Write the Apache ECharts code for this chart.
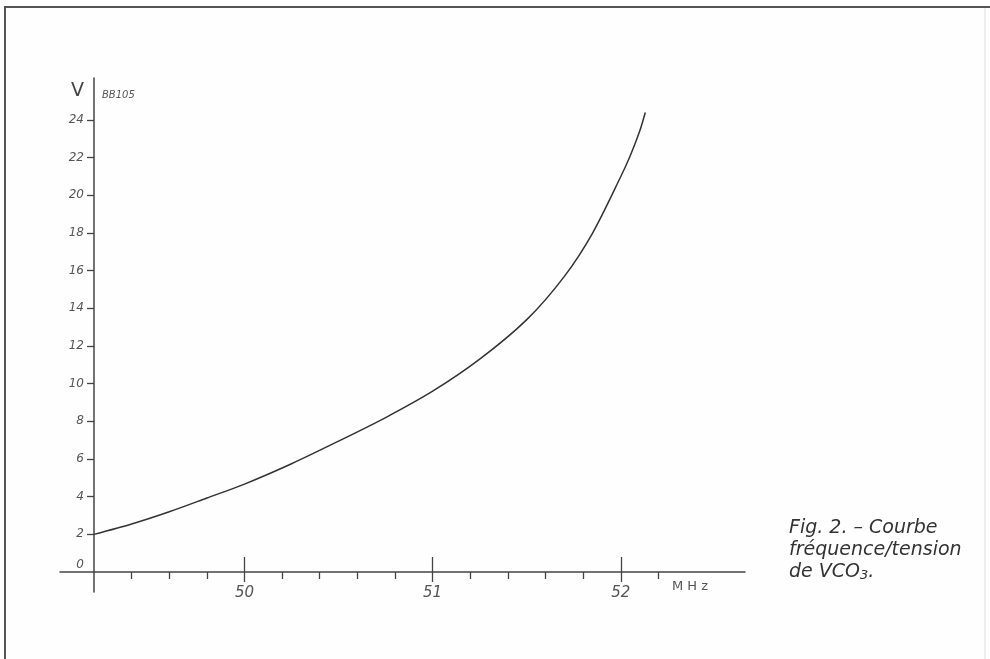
<!DOCTYPE html>
<html>
<head>
<meta charset="utf-8">
<script src="https://cdn.jsdelivr.net/npm/echarts@6/dist/echarts.min.js"></script>
<style>
html,body{margin:0;padding:0;background:#fefefe;}
#chart{width:990px;height:659px;}
</style>
</head>
<body>
<div id="chart"></div>
<script>
// ---- data ----
const freqMHz = [49.2, 49.4, 49.6, 49.8, 50.0, 50.25, 50.5, 50.75, 51.0, 51.25, 51.5, 51.7, 51.85, 52.0, 52.05, 52.1, 52.13];
const voltV   = [2.0, 2.55, 3.2, 3.93, 4.67, 5.75, 6.95, 8.2, 9.6, 11.3, 13.4, 15.7, 18.0, 21.0, 22.1, 23.4, 24.4];
const yTicks = [0, 2, 4, 6, 8, 10, 12, 14, 16, 18, 20, 22, 24];
const xMajorTicks = [50, 51, 52];
const xMinorTicks = [49.4, 49.6, 49.8, 50.2, 50.4, 50.6, 50.8, 51.2, 51.4, 51.6, 51.8, 52.2];
const xUnit = 'M H z';
const yUnit = 'V';
const diodeName = 'BB105';
const captionLines = ['Fig. 2. – Courbe', 'fréquence/tension'];

const ink = '#444';
const chart = echarts.init(document.getElementById('chart'), null, {renderer: 'canvas'});
const seriesData = freqMHz.map((f, i) => [f, voltV[i]]);

const option = {
  backgroundColor: '#fefefe',
  animation: false,
  grid: [
    {left: 60, top: 78, width: 685, height: 494},
    {left: 94, top: 78, width: 651, height: 514}
  ],
  xAxis: [
    { // main line + minor ticks
      gridIndex: 0, type: 'value', min: 49.02, max: 52.66, position: 'bottom',
      axisLine: {show: true, onZero: false, lineStyle: {color: ink, width: 1.5}},
      axisTick: {show: true, customValues: xMinorTicks, length: 7, inside: false, lineStyle: {color: ink, width: 1.3}},
      axisLabel: {show: false}, splitLine: {show: false}
    },
    { // major ticks upward + labels
      gridIndex: 0, type: 'value', min: 49.02, max: 52.66, position: 'bottom',
      axisLine: {show: false, onZero: false},
      axisTick: {show: true, customValues: xMajorTicks, length: 15, inside: true, lineStyle: {color: ink, width: 1.3}},
      axisLabel: {show: true, customValues: xMajorTicks, margin: 14, color: '#555', fontSize: 15, fontStyle: 'italic', fontFamily: 'DejaVu Sans'},
      splitLine: {show: false}
    },
    { // major ticks downward
      gridIndex: 0, type: 'value', min: 49.02, max: 52.66, position: 'bottom',
      axisLine: {show: false, onZero: false},
      axisTick: {show: true, customValues: xMajorTicks, length: 10, inside: false, lineStyle: {color: ink, width: 1.3}},
      axisLabel: {show: false}, splitLine: {show: false}
    },
    {
      gridIndex: 1, type: 'value', min: 49.2, max: 52.66, show: false
    }
  ],
  yAxis: [
    {gridIndex: 0, type: 'value', min: 0, max: 26.23, show: false},
    {
      gridIndex: 1, type: 'value', min: -1.06, max: 26.23, position: 'left',
      axisLine: {show: true, onZero: false, lineStyle: {color: ink, width: 1.5}},
      axisTick: {show: true, customValues: yTicks.filter(v => v !== 0), length: 7, lineStyle: {color: ink, width: 1.3}},
      axisLabel: {
        show: true, customValues: yTicks, margin: 10, color: '#555', fontSize: 12,
        fontStyle: 'italic', fontFamily: 'DejaVu Sans',
        formatter: v => v === 0 ? '{z|0}' : String(v),
        rich: {z: {color: '#555', fontSize: 12, fontStyle: 'italic', fontFamily: 'DejaVu Sans', padding: [0, 0, 14, 0]}}
      },
      splitLine: {show: false}
    }
  ],
  series: [{
    type: 'line',
    xAxisIndex: 3, yAxisIndex: 1,
    data: seriesData,
    smooth: 0.3,
    showSymbol: false,
    lineStyle: {color: '#333', width: 1.5},
    clip: false
  }],
  graphic: [
    {type: 'line', shape: {x1: 4, y1: 7, x2: 990, y2: 7}, style: {stroke: '#555', lineWidth: 2}, silent: true},
    {type: 'line', shape: {x1: 5, y1: 7, x2: 5, y2: 659}, style: {stroke: '#555', lineWidth: 2}, silent: true},
    {type: 'line', shape: {x1: 985, y1: 8, x2: 985, y2: 659}, style: {stroke: '#ddd', lineWidth: 1}, silent: true},
    {type: 'text', left: 71, top: 82, style: {text: yUnit, fontSize: 19, fill: '#444', fontFamily: 'DejaVu Sans', fontWeight: 'normal'}},
    {type: 'text', left: 102, top: 90, style: {text: diodeName, fontSize: 10, fill: '#555', fontFamily: 'DejaVu Sans', fontStyle: 'italic'}},
    {type: 'text', left: 672, top: 580, style: {text: xUnit, fontSize: 13, fill: '#555', fontFamily: 'DejaVu Sans'}},
    {type: 'text', left: 789, top: 517, style: {
      text: captionLines.join('\n') + '\n{n|de VCO}{s|3}{n|.}',
      fontSize: 19, lineHeight: 22, fill: '#333', fontStyle: 'italic', fontFamily: 'DejaVu Sans',
      rich: {
        n: {fontSize: 19, lineHeight: 22, fill: '#333', fontStyle: 'italic', fontFamily: 'DejaVu Sans'},
        s: {fontSize: 13, lineHeight: 22, fill: '#333', fontStyle: 'italic', fontFamily: 'DejaVu Sans', padding: [8, 0, 0, 0]}
      }
    }}
  ]
};
chart.setOption(option);
</script>
</body>
</html>
